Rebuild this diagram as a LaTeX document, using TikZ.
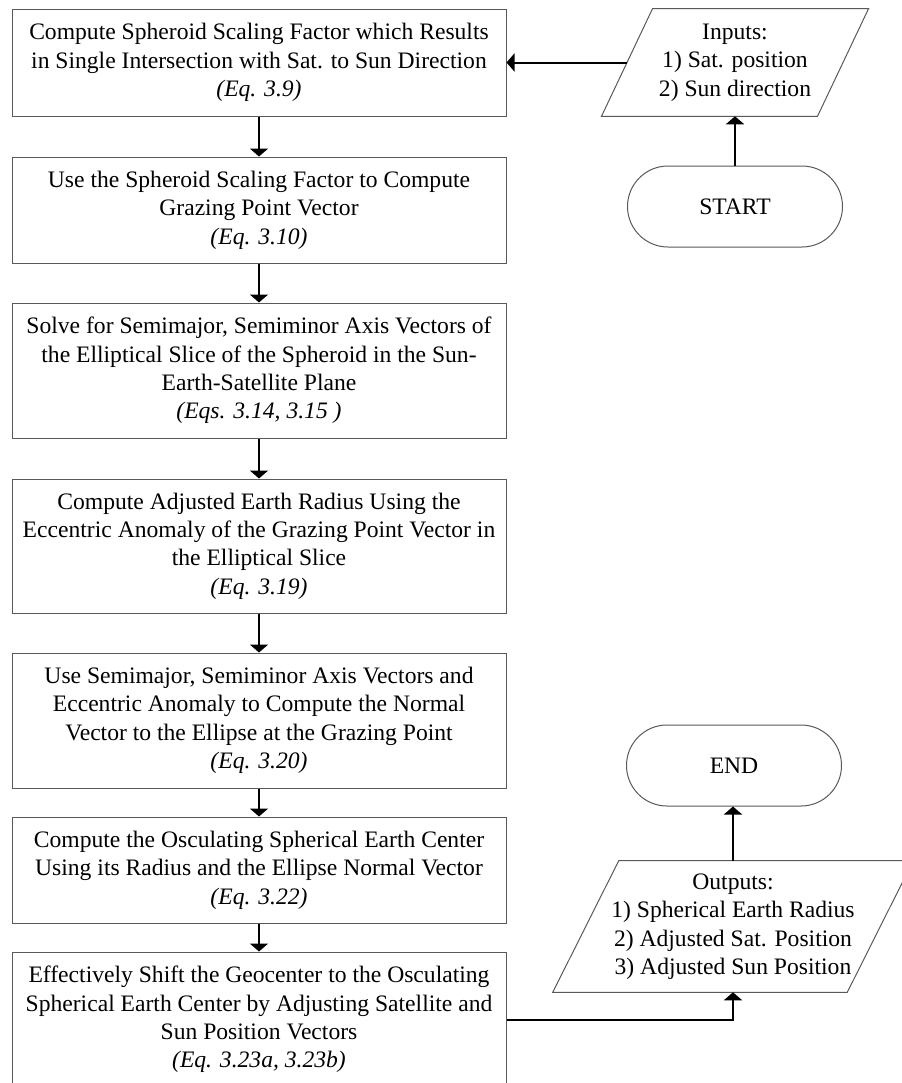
\documentclass[tikz,border=0pt]{standalone}
\usepackage{fontspec}
\setmainfont{Liberation Serif}
\usetikzlibrary{arrows.meta,calc}
\begin{document}
\begin{tikzpicture}[x=0.75pt,y=-0.75pt,
  every node/.style={font=\fontsize{17.7}{21.3}\selectfont, align=center, inner sep=0pt},
  stepbox/.style={draw=black!65, line width=0.75pt, minimum width=370.5pt},
  terminal/.style={draw=black!65, line width=0.75pt, rounded corners=30.375pt,
    minimum width=161.25pt, minimum height=60.75pt},
  iobox/.style={draw=black!65, line width=0.75pt},
  flow/.style={-{Triangle[length=6pt,width=13.5pt]}, line width=1.5pt}]

\useasboundingbox (0,0) rectangle (902,1083);
\clip (0,0) rectangle (902,1083);

% main sequence of computation steps
\node[stepbox, minimum height=80.25pt] (b1) at (259,62.5)
  {Compute Spheroid Scaling Factor which Results\\in Single Intersection with Sat. to Sun Direction\\\textit{(Eq. 3.9)}};
\node[stepbox, minimum height=79.5pt] (b2) at (259,210)
  {Use the Spheroid Scaling Factor to Compute\\Grazing Point Vector\\\textit{(Eq. 3.10)}};
\node[stepbox, minimum height=101.25pt] (b3) at (259,370.5)
  {Solve for Semimajor, Semiminor Axis Vectors of\\the Elliptical Slice of the Spheroid in the Sun-\\Earth-Satellite Plane\\\textit{(Eqs. 3.14, 3.15 )}};
\node[stepbox, minimum height=100.5pt] (b4) at (259,546)
  {Compute Adjusted Earth Radius Using the\\Eccentric Anomaly of the Grazing Point Vector in\\the Elliptical Slice\\\textit{(Eq. 3.19)}};
\node[stepbox, minimum height=101.25pt] (b5) at (259,720.5)
  {Use Semimajor, Semiminor Axis Vectors and\\Eccentric Anomaly to Compute the Normal\\Vector to the Ellipse at the Grazing Point\\\textit{(Eq. 3.20)}};
\node[stepbox, minimum height=79.5pt] (b6) at (259,870)
  {Compute the Osculating Spherical Earth Center\\Using its Radius and the Ellipse Normal Vector\\\textit{(Eq. 3.22)}};
\node[stepbox, minimum height=101.25pt] (b7) at (259,1019.5)
  {Effectively Shift the Geocenter to the Osculating\\Spherical Earth Center by Adjusting Satellite and\\Sun Position Vectors\\\textit{(Eq. 3.23a, 3.23b)}};

% start / end terminals
\node[terminal] (start) at (735,206.5) {START};
\node[terminal] (end) at (734,765.5) {END};

% input and output data (parallelograms)
\node[minimum width=161.6pt, minimum height=80.25pt] (in) at (735,62.5)
  {Inputs:\\1) Sat. position\\2) Sun direction};
\draw[iobox] ($(in.north west)+(25.5,0)$) -- ($(in.north east)+(25.5,0)$)
  -- ($(in.south east)-(25.5,0)$) -- ($(in.south west)-(25.5,0)$) -- cycle;

\node[minimum width=220.5pt, minimum height=98.25pt] (out) at (733,926.5)
  {Outputs:\\1) Spherical Earth Radius\\2) Adjusted Sat. Position\\3) Adjusted Sun Position};
\draw[iobox] ($(out.north west)+(33,0)$) -- ($(out.north east)+(33,0)$)
  -- ($(out.south east)-(33,0)$) -- ($(out.south west)-(33,0)$) -- cycle;

% connectors
\draw[flow] (start.north) -- (in.south);
\draw[flow] (in.west) -- (b1.east);
\draw[flow] (b1) -- (b2);
\draw[flow] (b2) -- (b3);
\draw[flow] (b3) -- (b4);
\draw[flow] (b4) -- (b5);
\draw[flow] (b5) -- (b6);
\draw[flow] (b6) -- (b7);
\draw[flow] (b7.east) -| (out.south);
\draw[flow] (out.north) -- (out.north |- end.south);
\end{tikzpicture}
\end{document}
